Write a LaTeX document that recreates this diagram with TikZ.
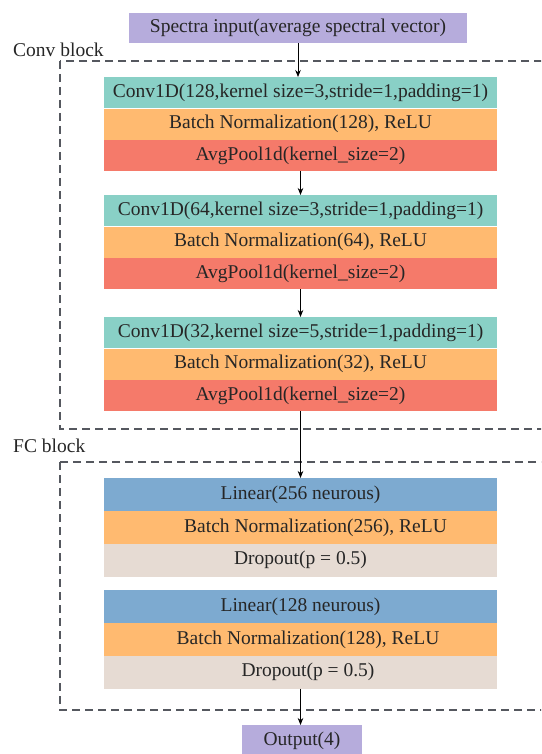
\documentclass[tikz,border=0pt]{standalone}
\usepackage{fontspec}
\setmainfont{Liberation Serif}
\usetikzlibrary{positioning, arrows.meta}

\definecolor{convcol}{RGB}{137,208,198}
\definecolor{bncol}{RGB}{255,186,112}
\definecolor{poolcol}{RGB}{245,122,106}
\definecolor{lincol}{RGB}{125,170,208}
\definecolor{dropcol}{RGB}{230,219,211}
\definecolor{iocol}{RGB}{182,172,220}
\definecolor{framecol}{RGB}{85,88,95}

\begin{document}
\begin{tikzpicture}[x=1pt, y=-1pt,
    txt/.style={font=\fontsize{19.5}{22}\selectfont, text=black!85},
    layer/.style={txt, minimum width=393pt, minimum height=31pt, inner sep=0pt},
    fclayer/.style={layer, minimum height=32.5pt},
    frame/.style={framecol, line width=1.1pt, dash pattern=on 8pt off 5pt},
    flow/.style={-{Stealth[length=7pt, width=5.5pt]}, line width=0.7pt}]
    \useasboundingbox (0,0) rectangle (541,754);
    \clip (0,0) rectangle (541,754);

    % dashed frames
    \draw[frame] (60,61) rectangle (570,429);
    \draw[frame] (60,462) rectangle (570,710);
    \node[txt, anchor=base west, inner sep=0pt] (convlbl) at (13,57) {Conv block};
    \node[txt, anchor=base west, inner sep=0pt] (fclbl) at (13,452) {FC block};

    \node[txt, fill=iocol, minimum width=338pt, minimum height=30pt, inner sep=0pt] (inp) at (298,28) {Spectra input(average spectral vector)};

    % conv blocks
    \node[layer, fill=convcol, anchor=north] (c1a) at (300.5,77) {Conv1D(128,kernel size=3,stride=1,padding=1)};
    \node[layer, fill=bncol, below=0pt of c1a] (c1b) {Batch Normalization(128), ReLU};
    \node[layer, fill=poolcol, below=0pt of c1b] (c1c) {AvgPool1d(kernel\_size=2)};

    \node[layer, fill=convcol, anchor=north] (c2a) at (300.5,195) {Conv1D(64,kernel size=3,stride=1,padding=1)};
    \node[layer, fill=bncol, below=0pt of c2a] (c2b) {Batch Normalization(64), ReLU};
    \node[layer, fill=poolcol, below=0pt of c2b] (c2c) {AvgPool1d(kernel\_size=2)};

    \node[layer, fill=convcol, anchor=north] (c3a) at (300.5,317) {Conv1D(32,kernel size=5,stride=1,padding=1)};
    \node[layer, fill=bncol, below=0pt of c3a] (c3b) {Batch Normalization(32), ReLU};
    \node[layer, fill=poolcol, below=0pt of c3b] (c3c) {AvgPool1d(kernel\_size=2)};

    % fc blocks
    \node[fclayer, fill=lincol, anchor=north] (f1a) at (300.5,478) {Linear(256 neurous)};
    \node[fclayer, fill=bncol, below=0pt of f1a] (f1b) {\hspace*{30pt}Batch Normalization(256), ReLU};
    \node[fclayer, fill=dropcol, below=0pt of f1b] (f1c) {Dropout(p = 0.5)};

    \node[fclayer, fill=lincol, anchor=north] (f2a) at (300.5,590) {Linear(128 neurous)};
    \node[fclayer, fill=bncol, below=0pt of f2a] (f2b) {\hspace*{15pt}Batch Normalization(128), ReLU};
    \node[fclayer, fill=dropcol, below=0pt of f2b] (f2c) {\hspace*{15pt}Dropout(p = 0.5)};

    \node[txt, fill=iocol, minimum width=120pt, minimum height=32pt, inner sep=0pt, anchor=north] (out) at (302,725) {Output(4)};

    \draw[flow] (inp.south) -- (inp.south |- c1a.north);
    \draw[flow] (c1c.south) -- (c2a.north);
    \draw[flow] (c2c.south) -- (c3a.north);
    \draw[flow] (c3c.south) -- (f1a.north);
    \draw[flow] (f2c.south) -- (f2c.south |- out.north);
\end{tikzpicture}
\end{document}
